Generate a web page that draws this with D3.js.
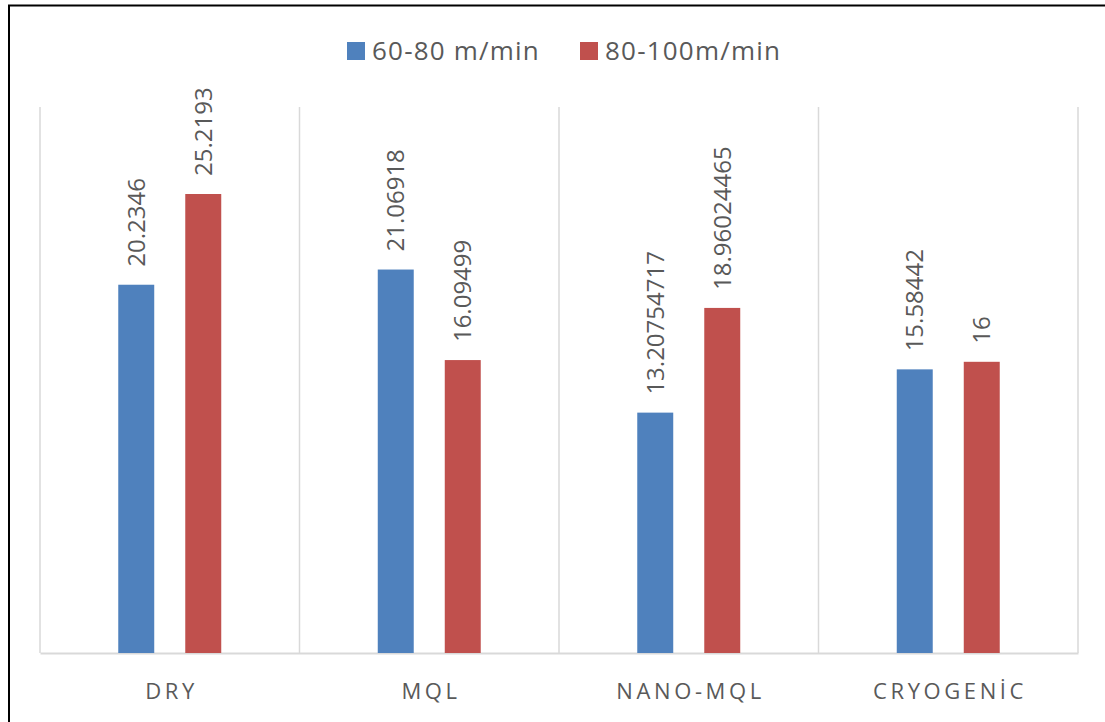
<!DOCTYPE html>
<html>
<head>
<meta charset="utf-8">
<script src="https://cdn.jsdelivr.net/npm/d3@7"></script>
<style>
  html, body { margin: 0; padding: 0; background: #fff; }
  svg { display: block; }
  text { font-family: "Open Sans", "Noto Sans", sans-serif; }
</style>
</head>
<body>
<svg id="chart" width="1105" height="722"></svg>
<script>
// Cutting conditions and speed ranges
const categories = ["DRY", "MQL", "NANO-MQL", "CRYOGENİC"];
const seriesNames = ["60-80 m/min", "80-100m/min"];
const speed60to80 = [20.2346, 21.06918, 13.20754717, 15.58442];
const speed80to100 = [25.2193, 16.09499, 18.96024465, 16];
const seriesColors = ["#4f81bd", "#c0504d"];

const seriesValues = [speed60to80, speed80to100];
const rows = categories.map((c, i) => ({
  category: c,
  values: seriesNames.map((s, j) => ({ series: s, value: seriesValues[j][i], color: seriesColors[j] }))
}));

const svg = d3.select("#chart");
const plot = { left: 40, right: 1078, top: 107, bottom: 653 };

// Outer frame
svg.append("rect")
  .attr("x", 9).attr("y", 5.5)
  .attr("width", 1200).attr("height", 800)
  .attr("fill", "none").attr("stroke", "#000").attr("stroke-width", 2);

const x0 = d3.scaleBand().domain(categories).range([plot.left, plot.right]).padding(0);
const x1 = d3.scaleBand().domain(seriesNames).range([0, x0.bandwidth()])
  .paddingInner(0.463).paddingOuter(1.168);
const y = d3.scaleLinear().domain([0, 30]).range([plot.bottom, plot.top]);

// Vertical separators between categories
const edges = categories.map(c => x0(c)).concat([plot.right]);
svg.append("g").selectAll("line").data(edges).join("line")
  .attr("x1", d => d).attr("x2", d => d)
  .attr("y1", plot.top).attr("y2", plot.bottom)
  .attr("stroke", "#d9d9d9").attr("stroke-width", 1.5);

// Category axis
const xAxis = svg.append("g")
  .attr("transform", `translate(0,${plot.bottom})`)
  .call(d3.axisBottom(x0).tickSize(0).tickPadding(0));
xAxis.select(".domain").attr("stroke", "#d9d9d9").attr("stroke-width", 2);
xAxis.selectAll(".tick text")
  .attr("y", 46).attr("dy", 0)
  .attr("dx", 1.8)
  .attr("fill", "#595959")
  .style("font-size", "22px")
  .style("letter-spacing", "3.6px")
  .style("font-family", "'Open Sans', sans-serif");

// Bars
const groups = svg.append("g").selectAll("g").data(rows).join("g")
  .attr("transform", d => `translate(${x0(d.category)},0)`);

groups.selectAll("rect").data(d => d.values).join("rect")
  .attr("x", d => x1(d.series))
  .attr("y", d => y(d.value))
  .attr("width", x1.bandwidth())
  .attr("height", d => y(0) - y(d.value))
  .attr("fill", d => d.color);

// Value labels, rotated above each bar
groups.selectAll("text.value").data(d => d.values).join("text")
  .attr("class", "value")
  .attr("transform", d => `translate(${x1(d.series) + x1.bandwidth() / 2},${y(d.value) - 18}) rotate(-90)`)
  .attr("dy", "0.36em")
  .attr("text-anchor", "start")
  .attr("fill", "#595959")
  .style("font-size", "24px")
  .text(d => String(d.value));

// Legend
const legendX = [347, 580];
const legend = svg.append("g").selectAll("g").data(seriesNames).join("g")
  .attr("transform", (d, i) => `translate(${legendX[i]},0)`);
legend.append("rect")
  .attr("x", 0).attr("y", 42)
  .attr("width", 18).attr("height", 18)
  .attr("fill", (d, i) => seriesColors[i]);
legend.append("text")
  .attr("x", 25).attr("y", 60)
  .attr("fill", "#595959")
  .style("font-size", "26px")
  .style("letter-spacing", "1.2px")
  .text(d => d);
</script>
</body>
</html>
